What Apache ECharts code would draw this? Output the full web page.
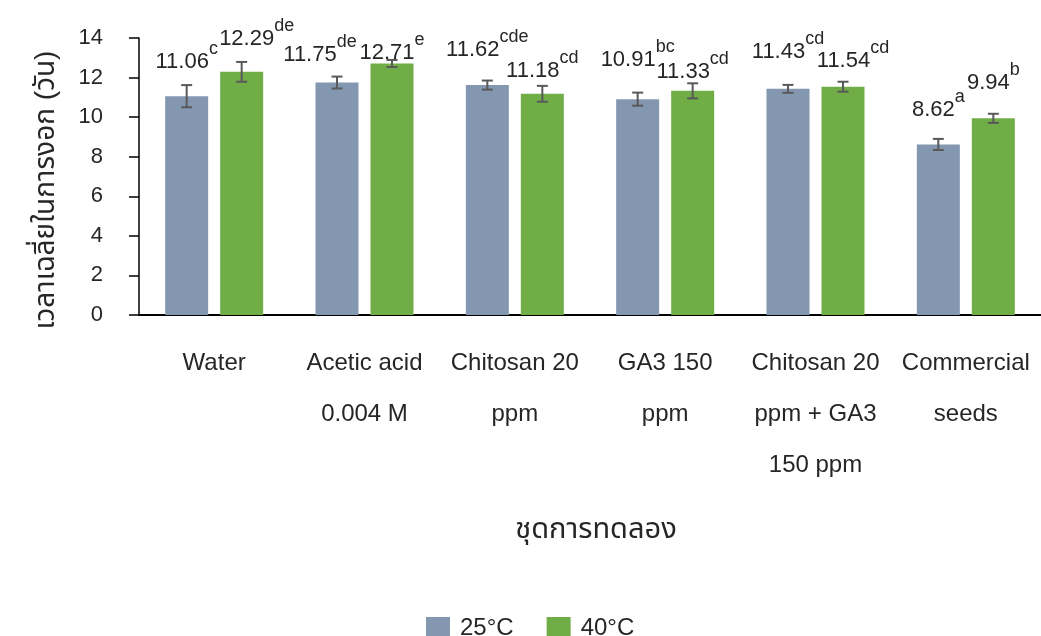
<!DOCTYPE html>
<html>
<head>
<meta charset="utf-8">
<script src="https://cdn.jsdelivr.net/npm/echarts@6/dist/echarts.min.js"></script>
<style>
  html, body { margin: 0; padding: 0; background: #fff; }
  #chart { width: 1041px; height: 636px; }
</style>
</head>
<body>
<div id="chart"></div>
<script>
// Treatments and mean germination time (days) at two temperatures
const categories = ['Water', 'Acetic acid\n0.004 M', 'Chitosan 20\nppm', 'GA3 150\nppm', 'Chitosan 20\nppm + GA3\n150 ppm', 'Commercial\nseeds'];
const seriesNames = ['25°C', '40°C'];
const mean25 = [11.06, 11.75, 11.62, 10.91, 11.43, 8.62];
const mean40 = [12.29, 12.71, 11.18, 11.33, 11.54, 9.94];
const err25 = [0.56, 0.30, 0.23, 0.33, 0.20, 0.28];
const err40 = [0.50, 0.18, 0.40, 0.38, 0.25, 0.23];
const letters25 = ['c', 'de', 'cde', 'bc', 'cd', 'a'];
const letters40 = ['de', 'e', 'cd', 'cd', 'cd', 'b'];
const yMin = 0, yMax = 14, yStep = 2;

// Layout: bar geometry and per-label pixel nudges relative to the bar top
const BAR_W = 43, BAR_GAP = 12;
const nudge25 = [[0, -40], [-17, -33], [0, -41], [0, -45], [0, -42], [0, -40]];
const nudge40 = [[15, -38], [0, -16], [0, -28], [0, -24], [10, -31], [0, -41]];

const FONT = '"Liberation Sans", Arial, "Noto Sans Thai", "Noto Sans", sans-serif';
const TXT = '#262626';
const colors = ['#8497B0', '#70AD47'];

function errLabelSeries(means, errs, letters, nudges, side) {
  const data = means.map((v, i) => [i, v, errs[i]]);
  return {
    type: 'custom',
    z: 5,
    silent: true,
    data: data,
    encode: { x: 0, y: 1 },
    renderItem: function (params, api) {
      const i = api.value(0);
      const v = api.value(1);
      const e = api.value(2);
      const idx = params.dataIndex;
      const base = api.coord([i, v]);
      const x = base[0] + side * (BAR_W + BAR_GAP) / 2;
      const yTop = api.coord([i, v + e])[1];
      const yBot = api.coord([i, v - e])[1];
      const cap = 5.5;
      const lineStyle = { stroke: '#595959', lineWidth: 2 };
      const n = nudges[idx];
      return {
        type: 'group',
        children: [
          { type: 'line', shape: { x1: x, y1: yTop, x2: x, y2: yBot }, style: lineStyle },
          { type: 'line', shape: { x1: x - cap, y1: yTop, x2: x + cap, y2: yTop }, style: lineStyle },
          { type: 'line', shape: { x1: x - cap, y1: yBot, x2: x + cap, y2: yBot }, style: lineStyle },
          {
            type: 'text',
            x: x + n[0],
            y: base[1] + n[1],
            style: {
              text: '{v|' + v.toFixed(2) + '}{s|' + letters[idx] + '}',
              align: 'center',
              verticalAlign: 'middle',
              rich: {
                v: { fontSize: 22, lineHeight: 33, verticalAlign: 'bottom', fill: TXT, fontFamily: FONT },
                s: { fontSize: 18, lineHeight: 18, verticalAlign: 'top', fill: TXT, fontFamily: FONT }
              }
            }
          }
        ]
      };
    }
  };
}

const chart = echarts.init(document.getElementById('chart'), null, { renderer: 'canvas' });
chart.setOption({
  animation: false,
  backgroundColor: '#fff',
  textStyle: { fontFamily: FONT, color: TXT },
  grid: { left: 139, top: 38, width: 912, height: 277, containLabel: false },
  legend: {
    data: seriesNames,
    left: 421,
    top: 611,
    icon: 'rect',
    itemWidth: 24,
    itemHeight: 22,
    itemGap: 33,
    textStyle: { fontSize: 24, color: TXT, fontFamily: FONT, padding: [0, 0, 0, 5] }
  },
  xAxis: {
    type: 'category',
    data: categories,
    axisLine: { lineStyle: { color: '#000', width: 2 } },
    axisTick: { alignWithLabel: true, length: 8, lineStyle: { color: '#000', width: 2 } },
    axisLabel: { fontSize: 24, lineHeight: 51, margin: 23, color: TXT, fontFamily: FONT, interval: 0 }
  },
  yAxis: {
    type: 'value',
    min: yMin,
    max: yMax,
    interval: yStep,
    axisLine: { show: true, lineStyle: { color: '#000', width: 1.5 } },
    axisTick: { show: true, length: 10, lineStyle: { color: '#000', width: 1.5 } },
    splitLine: { show: false },
    axisLabel: { fontSize: 22, margin: 36, color: TXT, fontFamily: FONT }
  },
  graphic: [
    {
      type: 'text',
      x: 46, y: 190,
      rotation: Math.PI / 2,
      style: { text: 'เวลาเฉลี่ยในการงอก (วัน)', fontSize: 28, fill: TXT, fontFamily: FONT, align: 'center', verticalAlign: 'middle' }
    },
    {
      type: 'text',
      x: 596, y: 530,
      style: { text: 'ชุดการทดลอง', fontSize: 29, fill: TXT, fontFamily: FONT, align: 'center', verticalAlign: 'middle' }
    }
  ],
  series: [
    {
      name: seriesNames[0], type: 'bar', data: mean25, barWidth: BAR_W, barGap: (BAR_GAP / BAR_W * 100) + '%',
      itemStyle: { color: colors[0] }
    },
    {
      name: seriesNames[1], type: 'bar', data: mean40, barWidth: BAR_W,
      itemStyle: { color: colors[1] }
    },
    errLabelSeries(mean25, err25, letters25, nudge25, -1),
    errLabelSeries(mean40, err40, letters40, nudge40, 1)
  ]
});
</script>
</body>
</html>
